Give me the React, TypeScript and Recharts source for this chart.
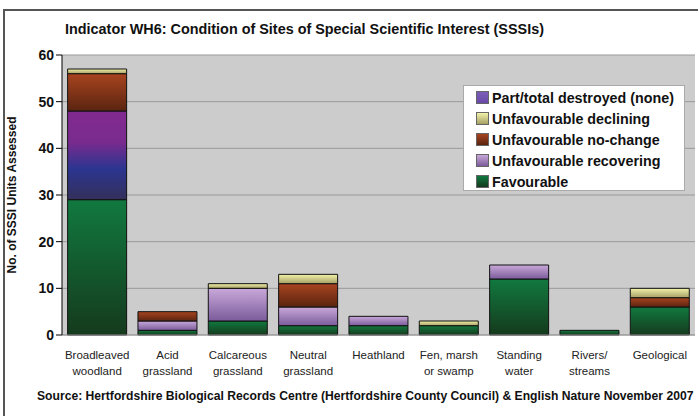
import { BarChart, Bar, XAxis, YAxis, CartesianGrid, Cell } from 'recharts';

const categories = [
  'Broadleaved|woodland',
  'Acid|grassland',
  'Calcareous|grassland',
  'Neutral|grassland',
  'Heathland',
  'Fen, marsh|or swamp',
  'Standing|water',
  'Rivers/|streams',
  'Geological',
];
const favourable = [29, 1, 3, 2, 2, 2, 12, 1, 6];
const recovering = [19, 2, 7, 4, 2, 0, 3, 0, 0];
const noChange = [8, 2, 0, 5, 0, 0, 0, 0, 2];
const declining = [1, 0, 1, 2, 0, 1, 0, 0, 2];
const destroyed = [0, 0, 0, 0, 0, 0, 0, 0, 0];
const yTicks = [0, 10, 20, 30, 40, 50, 60];

const data = categories.map((name, i) => ({
  name,
  favourable: favourable[i],
  recovering: recovering[i],
  noChange: noChange[i],
  declining: declining[i],
  destroyed: destroyed[i],
}));

const legendItems = [
  { label: 'Part/total destroyed (none)', bg: 'linear-gradient(#7b5cb8, #6a4aa8)' },
  { label: 'Unfavourable declining', bg: 'linear-gradient(#f2f2a8, #a6a066)' },
  { label: 'Unfavourable no-change', bg: 'linear-gradient(#a8441f, #5a2410)' },
  { label: 'Unfavourable recovering', bg: 'linear-gradient(#c9a9da, #7b5b9a)' },
  { label: 'Favourable', bg: 'linear-gradient(#11793f, #153a1d)' },
];

const font = '"Liberation Sans", Arial, sans-serif';

function XTick(props: any) {
  const { x, y, payload } = props;
  const lines = String(payload.value).split('|');
  return (
    <text x={x} y={y + 16} textAnchor="middle" fontFamily={font} fontSize={11.5} fill="#222">
      {lines.map((l, i) => (
        <tspan key={i} x={x} dy={i === 0 ? 0 : 16}>
          {l}
        </tspan>
      ))}
    </text>
  );
}

export default function App() {
  return (
    <div style={{ position: 'absolute', left: 0, top: 0, width: 698, height: 416, background: '#fff', overflow: 'hidden', fontFamily: font }}>
      <div style={{ position: 'absolute', left: 3, top: 9, width: 720, height: 440, border: '2px solid #555' }} />
      <div style={{ position: 'absolute', left: 65, top: 21, fontSize: 14.4, fontWeight: 'bold', color: '#111', whiteSpace: 'nowrap' }}>
        Indicator WH6: Condition of Sites of Special Scientific Interest (SSSIs)
      </div>
      <BarChart
        width={698}
        height={416}
        data={data}
        margin={{ top: 55, right: 3, left: 0, bottom: 0 }}
        barCategoryGap="8%"
        style={{ position: 'absolute', left: 0, top: 0 }}
      >
        <defs>
          <linearGradient id="gFav" x1="0" y1="0" x2="0" y2="1">
            <stop offset="0%" stopColor="#11793f" />
            <stop offset="100%" stopColor="#153a1d" />
          </linearGradient>
          <linearGradient id="gRec" x1="0" y1="0" x2="0" y2="1">
            <stop offset="0%" stopColor="#c9a9da" />
            <stop offset="100%" stopColor="#7b5b9a" />
          </linearGradient>
          <linearGradient id="gRecBW" x1="0" y1="0" x2="0" y2="1">
            <stop offset="0%" stopColor="#812a90" />
            <stop offset="35%" stopColor="#7a2b8e" />
            <stop offset="65%" stopColor="#2b3590" />
            <stop offset="100%" stopColor="#34305a" />
          </linearGradient>
          <linearGradient id="gNo" x1="0" y1="0" x2="0" y2="1">
            <stop offset="0%" stopColor="#a8441f" />
            <stop offset="100%" stopColor="#5a2410" />
          </linearGradient>
          <linearGradient id="gDec" x1="0" y1="0" x2="0" y2="1">
            <stop offset="0%" stopColor="#f2f2a8" />
            <stop offset="100%" stopColor="#a6a066" />
          </linearGradient>
        </defs>
        <CartesianGrid vertical={false} stroke="#999" fill="#cccccc" />
        <XAxis
          dataKey="name"
          height={81}
          tick={<XTick />}
          tickLine={false}
          axisLine={{ stroke: '#999' }}
          interval={0}
        />
        <YAxis
          width={62}
          domain={[0, 60]}
          ticks={yTicks}
          axisLine={{ stroke: '#000' }}
          tickLine={{ stroke: '#000' }}
          tickSize={6}
          tick={{ fontFamily: font, fontSize: 14, fontWeight: 'bold', fill: '#111' }}
          label={{
            value: 'No. of SSSI Units Assessed',
            angle: -90,
            position: 'insideLeft',
            offset: 12,
            style: { fontFamily: font, fontSize: 12, fontWeight: 'bold', fill: '#111', textAnchor: 'middle' },
          }}
        />
        <Bar dataKey="favourable" stackId="a" fill="url(#gFav)" stroke="#111" isAnimationActive={false} />
        <Bar dataKey="recovering" stackId="a" fill="url(#gRec)" stroke="#111" isAnimationActive={false}>
          {data.map((d, i) => (
            <Cell key={d.name} fill={i === 0 ? 'url(#gRecBW)' : 'url(#gRec)'} />
          ))}
        </Bar>
        <Bar dataKey="noChange" stackId="a" fill="url(#gNo)" stroke="#111" isAnimationActive={false} />
        <Bar dataKey="declining" stackId="a" fill="url(#gDec)" stroke="#111" isAnimationActive={false} />
        <Bar dataKey="destroyed" stackId="a" fill="#7b5cb8" stroke="#111" isAnimationActive={false} />
      </BarChart>
      <div
        style={{
          position: 'absolute',
          left: 463,
          top: 85,
          width: 222,
          height: 106,
          background: '#fff',
          border: '1px solid #aaa',
          paddingTop: 1,
          boxSizing: 'border-box',
        }}
      >
        {legendItems.map((it) => (
          <div key={it.label} style={{ display: 'flex', alignItems: 'center', height: 21, paddingLeft: 12 }}>
            <div style={{ width: 11, height: 11, background: it.bg, marginRight: 3, border: '0.5px solid #666', flexShrink: 0 }} />
            <span style={{ fontSize: 14.3, fontWeight: 'bold', color: '#111', whiteSpace: 'nowrap' }}>{it.label}</span>
          </div>
        ))}
      </div>
      <div style={{ position: 'absolute', left: 37, top: 389, fontSize: 12.15, fontWeight: 'bold', color: '#111', whiteSpace: 'nowrap' }}>
        Source: Hertfordshire Biological Records Centre (Hertfordshire County Council) &amp; English Nature November 2007
      </div>
    </div>
  );
}
